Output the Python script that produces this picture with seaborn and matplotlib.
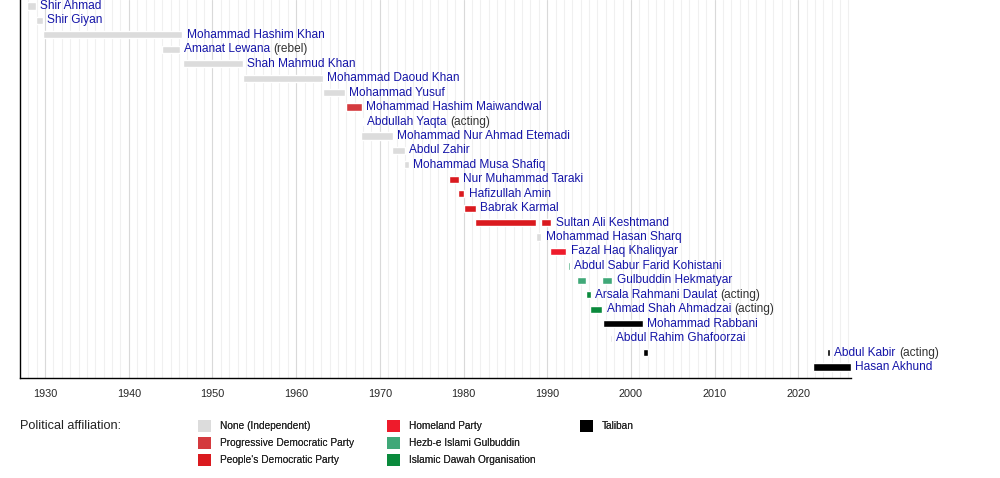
import numpy as np
import pandas as pd
import matplotlib
matplotlib.use("Agg")
import matplotlib.pyplot as plt
from matplotlib.patches import Patch
import seaborn as sns

# Nombres por fila (de arriba hacia abajo)
nombres = [
    "Shir Ahmad", "Shir Giyan", "Mohammad Hashim Khan", "Amanat Lewana",
    "Shah Mahmud Khan", "Mohammad Daoud Khan", "Mohammad Yusuf",
    "Mohammad Hashim Maiwandwal", "Abdullah Yaqta", "Mohammad Nur Ahmad Etemadi",
    "Abdul Zahir", "Mohammad Musa Shafiq", "Nur Muhammad Taraki",
    "Hafizullah Amin", "Babrak Karmal", "Sultan Ali Keshtmand",
    "Mohammad Hasan Sharq", "Fazal Haq Khaliqyar", "Abdul Sabur Farid Kohistani",
    "Gulbuddin Hekmatyar", "Arsala Rahmani Daulat", "Ahmad Shah Ahmadzai",
    "Mohammad Rabbani", "Abdul Rahim Ghafoorzai", "Abdul Kabir", "Hasan Akhund",
]
notas = [
    "", "", "", "(rebel)", "", "", "", "", "(acting)", "", "", "", "", "", "",
    "", "", "", "", "", "(acting)", "(acting)", "", "", "(acting)", "",
]

# Mandatos (una fila puede tener varios)
fila = [0, 1, 2, 3, 4, 5, 6, 7, 8, 9, 10, 11, 12, 13, 14, 15, 15, 16, 17, 18,
        19, 19, 20, 21, 22, 23, 24, 24, 25]
inicio = [1927.8, 1928.9, 1929.8, 1944.0, 1946.5, 1953.6, 1963.2, 1965.9,
          1967.85, 1967.8, 1971.5, 1972.9, 1978.3, 1979.3, 1980.0, 1981.4,
          1989.2, 1988.6, 1990.3, 1992.45, 1993.5, 1996.5, 1994.6, 1995.1,
          1996.7, 1997.55, 2001.4, 2023.4, 2021.7]
fin = [1928.9, 1929.7, 1946.4, 1946.1, 1953.6, 1963.2, 1965.8, 1967.9,
       1967.95, 1971.6, 1973.0, 1973.5, 1979.4, 1980.1, 1981.5, 1988.6,
       1990.5, 1989.3, 1992.3, 1992.7, 1994.6, 1997.8, 1995.2, 1996.6,
       2001.4, 1997.7, 2002.0, 2023.8, 2026.3]
partido = ["none", "none", "none", "none", "none", "none", "none", "pdp",
           "none", "none", "none", "none", "pdpa", "pdpa", "pdpa", "pdpa",
           "pdpa", "none", "homeland", "hezb", "hezb", "hezb", "dawah", "dawah",
           "taliban", "none", "taliban", "taliban", "taliban"]

partidos = ["none", "pdp", "pdpa", "homeland", "hezb", "dawah", "taliban"]
etiquetas = ["None (Independent)", "Progressive Democratic Party",
             "People's Democratic Party", "Homeland Party",
             "Hezb-e Islami Gulbuddin", "Islamic Dawah Organisation", "Taliban"]
colores = ["#dcdcdc", "#d43a3e", "#da1a1f", "#ee1b2b", "#40a878", "#0a8a3c",
           "#000000"]
paleta = dict(zip(partidos, colores))

mandatos = pd.DataFrame({"fila": fila, "inicio": inicio, "fin": fin,
                         "partido": partido})

sns.set_style("white")
plt.rcParams["font.family"] = ["Liberation Sans", "DejaVu Sans"]

fig = plt.figure(figsize=(10, 4.78), dpi=100)
ax = fig.add_axes([0.02, 1 - 378 / 478, 0.831, 378 / 478])

ax.barh(
    mandatos["fila"],
    mandatos["fin"] - mandatos["inicio"],
    left=mandatos["inicio"],
    height=0.5,
    color=mandatos["partido"].map(paleta),
    zorder=3,
)

fin_fila = mandatos.groupby("fila")["fin"].max()
for i, nombre in enumerate(nombres):
    t = ax.annotate(
        nombre, xy=(fin_fila[i], i), xytext=(3, 0), textcoords="offset points",
        va="center", ha="left", fontsize=8.6, color="#1515a8", zorder=4,
    )
    if notas[i]:
        ax.annotate(
            notas[i], xy=(1, 0.5), xycoords=t, xytext=(2.5, 0),
            textcoords="offset points", va="center", ha="left",
            fontsize=8.6, color="#333333",
        )

ax.set_xlim(1927.0, 2026.3)
ax.set_ylim(25.76, -0.415)
ax.set_xticks(np.arange(1930, 2021, 10))
ax.set_xticks(np.arange(1928, 2027, 1), minor=True)
ax.set_yticks([])
ax.tick_params(axis="x", which="both", direction="out", length=3, width=0.8,
               color="black", labelsize=7.8, pad=5)
ax.xaxis.grid(True, which="major", color="#d9d9d9", lw=0.8)
ax.xaxis.grid(True, which="minor", color="#f0f0f0", lw=0.8)
ax.set_axisbelow(True)
for lado in ["top", "right"]:
    ax.spines[lado].set_visible(False)
for lado in ["left", "bottom"]:
    ax.spines[lado].set_color("black")
    ax.spines[lado].set_linewidth(1)

fig.text(0.02, 1 - 426 / 478, "Political affiliation:", fontsize=9.2,
         va="center", ha="left", color="#222222")

# Leyenda en tres columnas (3, 3 y 1 elementos)
columnas = [(0, 3, 198), (3, 6, 387), (6, 7, 580)]
for a, b, x0 in columnas:
    handles = [Patch(facecolor=c, edgecolor="none") for c in colores[a:b]]
    leg = fig.legend(
        handles, etiquetas[a:b], ncol=1, loc="upper left",
        bbox_to_anchor=(x0 / 1000, 1 - 420 / 478), frameon=False,
        fontsize=7.3, handlelength=1.29, handleheight=1.44, handletextpad=0.9,
        labelspacing=0.5, borderpad=0, borderaxespad=0,
    )
    fig.add_artist(leg)

fig.savefig("out.png", dpi=100)
